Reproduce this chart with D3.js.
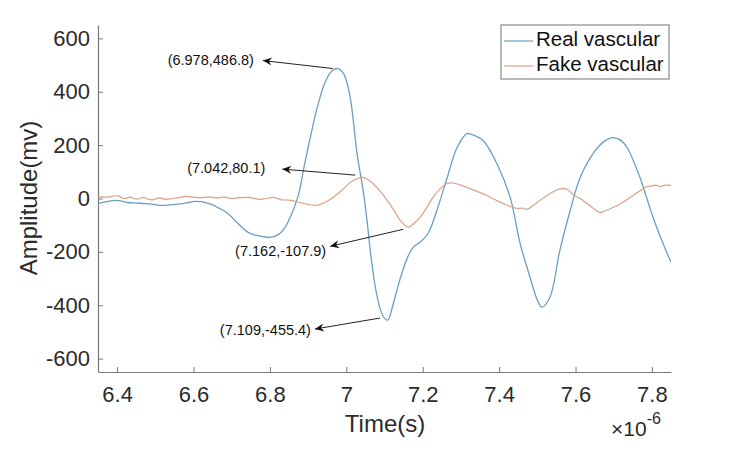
<!DOCTYPE html>
<html>
<head>
<meta charset="utf-8">
<script src="https://cdn.jsdelivr.net/npm/d3@7"></script>
<style>
  html, body { margin: 0; padding: 0; background: #fff; }
  svg { display: block; font-family: "Liberation Sans", Arial, Helvetica, sans-serif; }
</style>
</head>
<body>
<svg id="chart" width="750" height="453"></svg>
<script>
// ---------- data (time in units of 1e-6 s, amplitude in mV) ----------
const realT = [6.350, 6.372, 6.395, 6.412, 6.429, 6.450, 6.473, 6.495, 6.518, 6.545, 6.570, 6.590, 6.604, 6.618, 6.630, 6.648, 6.664, 6.690, 6.716, 6.743, 6.762, 6.779, 6.800, 6.813, 6.826, 6.840, 6.850, 6.862, 6.876, 6.890, 6.905, 6.923, 6.944, 6.962, 6.978, 6.994, 7.010, 7.028, 7.044, 7.054, 7.064, 7.077, 7.090, 7.100, 7.109, 7.120, 7.135, 7.148, 7.162, 7.175, 7.193, 7.214, 7.237, 7.264, 7.290, 7.316, 7.329, 7.358, 7.394, 7.429, 7.455, 7.481, 7.500, 7.512, 7.533, 7.559, 7.586, 7.612, 7.646, 7.675, 7.698, 7.720, 7.735, 7.769, 7.803, 7.840, 7.850];
const realV = [-19, -12, -7, -10, -15, -17, -19, -22, -26, -23, -19, -14, -11, -12, -15, -22, -34, -56, -93, -127, -137, -142, -146, -141, -131, -108, -80, -40, 20, 123, 224, 336, 434, 478, 486.8, 465, 380, 170, 30, -80, -210, -340, -420, -448, -455.4, -410, -330, -269, -215, -183, -164, -131, -45, 78, 191, 243, 239, 217, 131, 4, -168, -295, -380, -407, -370, -194, -45, 78, 168, 214, 228, 216, 191, 78, -71, -206, -239];

const fakeT = [6.350, 6.362, 6.376, 6.390, 6.402, 6.412, 6.420, 6.435, 6.445, 6.453, 6.470, 6.480, 6.492, 6.510, 6.527, 6.545, 6.562, 6.580, 6.600, 6.620, 6.640, 6.660, 6.680, 6.700, 6.720, 6.745, 6.770, 6.790, 6.810, 6.830, 6.850, 6.879, 6.900, 6.923, 6.945, 6.965, 6.988, 7.010, 7.025, 7.042, 7.055, 7.070, 7.090, 7.107, 7.125, 7.141, 7.162, 7.178, 7.193, 7.210, 7.227, 7.245, 7.264, 7.279, 7.300, 7.324, 7.345, 7.368, 7.390, 7.410, 7.430, 7.447, 7.460, 7.473, 7.490, 7.507, 7.530, 7.552, 7.567, 7.580, 7.593, 7.612, 7.630, 7.648, 7.664, 7.680, 7.698, 7.720, 7.743, 7.765, 7.787, 7.800, 7.810, 7.821, 7.835, 7.850];
const fakeV = [3, 6, 5, 9, 10, 3, 0, 5, -1, -2, 4, -2, -5, 2, -3, 0, 3, 8, 5, 3, 6, 2, 5, 0, 3, 4, -3, 0, 4, -5, -6, -15, -22, -26, -14, 4, 30, 60, 72, 80.1, 72, 56, 25, -7, -45, -82, -107.9, -92, -71, -35, 4, 35, 56, 58, 50, 37, 25, 11, -5, -19, -30, -37, -36, -41, -25, -7, 15, 33, 37, 33, 15, 0, -19, -38, -52, -45, -34, -18, 4, 25, 45, 47, 50, 45, 50, 49];

const xTicks = [6.4, 6.6, 6.8, 7.0, 7.2, 7.4, 7.6, 7.8];
const xTickLabels = ["6.4", "6.6", "6.8", "7", "7.2", "7.4", "7.6", "7.8"];
const yTicks = [-600, -400, -200, 0, 200, 400, 600];

const seriesNames = ["Real vascular", "Fake vascular"];
const seriesColors = ["#6a9fc2", "#dba084"];

// annotated points
const annT = [6.978, 7.042, 7.162, 7.109];
const annV = [486.8, 80.1, -107.9, -455.4];
const annLabels = ["(6.978,486.8)", "(7.042,80.1)", "(7.162,-107.9)", "(7.109,-455.4)"];

// ---------- layout ----------
const svg = d3.select("#chart");
const m = { left: 98, right: 671, top: 25, bottom: 372 };
const x = d3.scaleLinear().domain([6.35, 7.85]).range([m.left, m.right]);
const y = d3.scaleLinear().domain([-650, 650]).range([m.bottom, m.top]);
const axisColor = "#7a7a7a";
const textColor = "#2b2b2b";

const defs = svg.append("defs");
defs.append("clipPath").attr("id", "plotclip")
  .append("rect").attr("x", m.left).attr("y", m.top)
  .attr("width", m.right - m.left).attr("height", m.bottom - m.top);

defs.append("marker")
  .attr("id", "arrow").attr("viewBox", "-10 -5 12 10")
  .attr("refX", 0).attr("refY", 0)
  .attr("markerWidth", 12).attr("markerHeight", 10)
  .attr("markerUnits", "userSpaceOnUse")
  .attr("orient", "auto")
  .append("path").attr("d", "M0,0 L-9,-4 L-6,0 L-9,4 Z").attr("fill", "#111");

// axes
const xAxis = d3.axisBottom(x).tickValues(xTicks)
  .tickFormat((d, i) => xTickLabels[i]).tickSizeInner(-5).tickSizeOuter(0).tickPadding(12);
const yAxis = d3.axisLeft(y).tickValues(yTicks)
  .tickFormat(d => d).tickSizeInner(-5).tickSizeOuter(0).tickPadding(8);

const gx = svg.append("g").attr("transform", `translate(0,${m.bottom})`).call(xAxis);
const gy = svg.append("g").attr("transform", `translate(${m.left},0)`).call(yAxis);
[gx, gy].forEach(g => {
  g.select(".domain").attr("stroke", axisColor).attr("stroke-width", 1.2);
  g.selectAll(".tick line").attr("stroke", axisColor).attr("stroke-width", 1);
  g.selectAll(".tick text").attr("fill", textColor).attr("font-size", 22)
    .attr("font-family", "Liberation Sans, Arial, sans-serif");
});
gx.selectAll(".tick text").attr("dy", null).attr("y", 30);

// axis labels
svg.append("text").attr("x", 385).attr("y", 432).attr("text-anchor", "middle")
  .attr("font-size", 24).attr("fill", textColor).text("Time(s)");
svg.append("text").attr("transform", "translate(37,198) rotate(-90)")
  .attr("text-anchor", "middle").attr("font-size", 24).attr("fill", textColor).text("Amplitude(mv)");

// exponent
const ex = svg.append("text").attr("x", 611).attr("y", 436).attr("font-size", 21).attr("fill", textColor);
ex.append("tspan").text("\u00d710");
ex.append("tspan").attr("dy", -12).attr("font-size", 16).text("-6");

// lines
const realData = realT.map((t, i) => [t, realV[i]]);
const fakeData = fakeT.map((t, i) => [t, fakeV[i]]);
const plot = svg.append("g").attr("clip-path", "url(#plotclip)");
plot.append("path").datum(realData)
  .attr("d", d3.line().x(d => x(d[0])).y(d => y(d[1])).curve(d3.curveCatmullRom.alpha(0.5)))
  .attr("fill", "none").attr("stroke", seriesColors[0]).attr("stroke-width", 1.3);
plot.append("path").datum(fakeData)
  .attr("d", d3.line().x(d => x(d[0])).y(d => y(d[1])).curve(d3.curveCatmullRom.alpha(0.5)))
  .attr("fill", "none").attr("stroke", seriesColors[1]).attr("stroke-width", 1.2);

// annotations (pixel offsets relative to the annotated point)
const annLayout = [
  { tail: [-5, 0], head: [-75, -8], text: [-84, -7] },
  { tail: [-7, -2], head: [-80, -8], text: [-97, -8] },
  { tail: [-5, 2], head: [-78, 19], text: [-82, 25] },
  { tail: [-8, -2], head: [-73, 9], text: [-77, 11] }
];
annT.forEach((t, i) => {
  const px = x(t), py = y(annV[i]);
  const L = annLayout[i];
  svg.append("line")
    .attr("x1", px + L.tail[0]).attr("y1", py + L.tail[1])
    .attr("x2", px + L.head[0]).attr("y2", py + L.head[1])
    .attr("stroke", "#222").attr("stroke-width", 1)
    .attr("marker-end", "url(#arrow)");
  svg.append("text")
    .attr("x", px + L.text[0]).attr("y", py + L.text[1])
    .attr("text-anchor", "end").attr("dominant-baseline", "middle")
    .attr("font-size", 14.5).attr("fill", "#111").text(annLabels[i]);
});

// legend
const lg = svg.append("g");
lg.append("rect").attr("x", 501).attr("y", 25).attr("width", 168).attr("height", 54)
  .attr("fill", "#fff").attr("stroke", "#8a8a8a").attr("stroke-width", 1.2);
seriesNames.forEach((name, i) => {
  const ly = 41 + i * 25;
  lg.append("line").attr("x1", 504).attr("x2", 533).attr("y1", ly).attr("y2", ly)
    .attr("stroke", seriesColors[i]).attr("stroke-width", 1.2);
  lg.append("text").attr("x", 536).attr("y", ly).attr("dominant-baseline", "middle")
    .attr("font-size", 20.5).attr("fill", "#111").text(name);
});
</script>
</body>
</html>
